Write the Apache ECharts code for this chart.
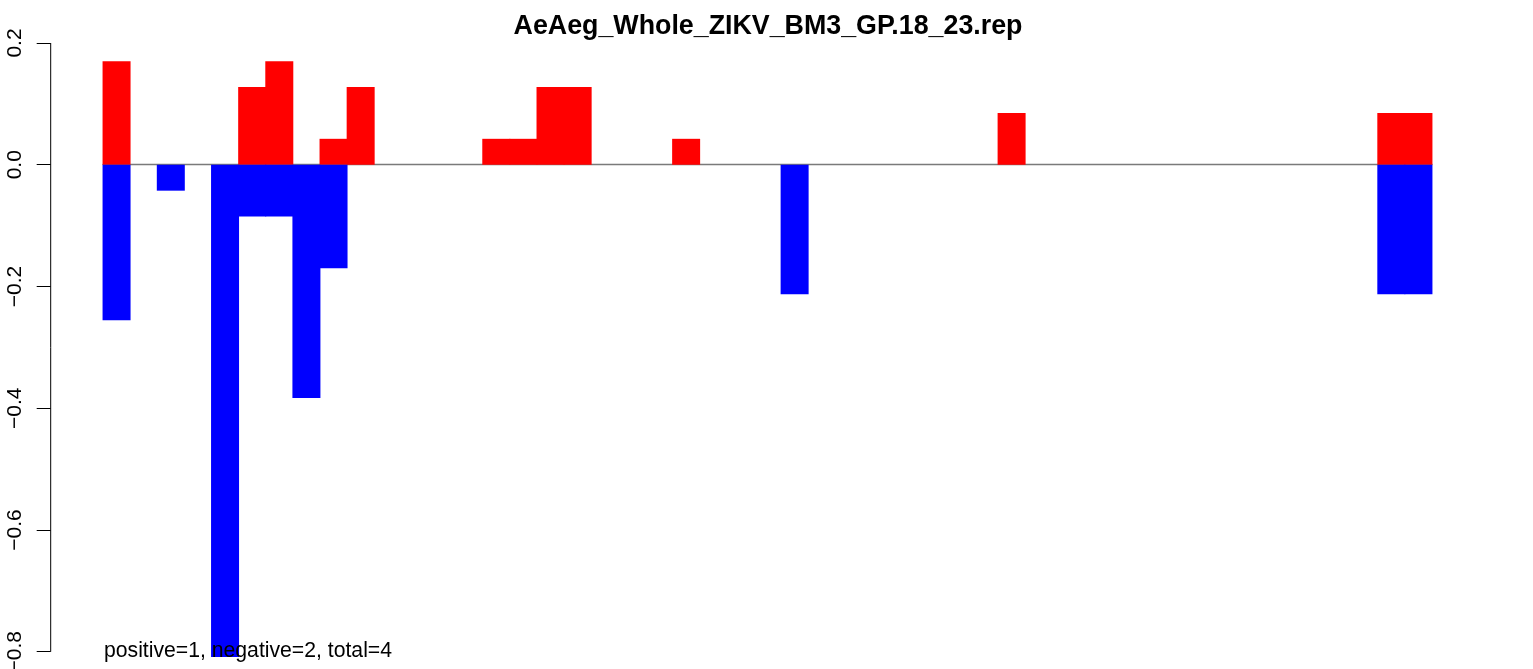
<!DOCTYPE html>
<html>
<head>
<meta charset="utf-8">
<script src="https://cdn.jsdelivr.net/npm/echarts@6/dist/echarts.min.js"></script>
<style>
  html, body { margin: 0; padding: 0; background: #fff; }
  #main { width: 1533px; height: 669px; }
</style>
</head>
<body>
<div id="main"></div>
<script>
// 标题和说明文字
var titleText = 'AeAeg_Whole_ZIKV_BM3_GP.18_23.rep';
var noteText = 'positive=1, negative=2, total=4';

// 49 个位置 (索引 0..48)
var positions = [];
for (var i = 0; i < 49; i++) positions.push(String(i + 1));

// 正向值 (红色)
var positiveValues = [
    0.1702, 0, 0, 0, 0, 0.1277, 0.1702, 0, 0.0426, 0.1277,
    0, 0, 0, 0, 0.0426, 0.0426, 0.1277, 0.1277, 0, 0,
    0, 0.0426, 0, 0, 0, 0, 0, 0, 0, 0,
    0, 0, 0, 0.0851, 0, 0, 0, 0, 0, 0,
    0, 0, 0, 0, 0, 0, 0, 0.0851, 0.0851
];

// 负向值 (蓝色)
var negativeValues = [
    -0.2553, 0, -0.0426, 0, -0.8085, -0.0851, -0.0851, -0.383, -0.1702, 0,
    0, 0, 0, 0, 0, 0, 0, 0, 0, 0,
    0, 0, 0, 0, 0, -0.2128, 0, 0, 0, 0,
    0, 0, 0, 0, 0, 0, 0, 0, 0, 0,
    0, 0, 0, 0, 0, 0, 0, -0.2128, -0.2128
];

// y 轴刻度
var yTickValues = [-0.8, -0.6, -0.4, -0.2, 0, 0.2];
var yMin = -0.8085;
var yMax = 0.2;

var font = 'Liberation Sans, Arial, Helvetica, sans-serif';
var gridLeft = 103;
var axisOffset = 52.3;

// 0 值不画
function noZero(arr) {
    return arr.map(function(v) { return v === 0 ? '-' : v; });
}

var chart = echarts.init(document.getElementById('main'));

chart.setOption({
    animation: false,
    backgroundColor: '#ffffff',
    grid: {
        left: gridLeft,
        right: 101,
        top: 43,
        bottom: 12.1,
        containLabel: false,
        outerBoundsMode: 'none'
    },
    xAxis: {
        type: 'category',
        data: positions,
        boundaryGap: true,
        axisLine: {
            show: true,
            onZero: true,
            lineStyle: { color: '#7a7a7a', width: 1.3 }
        },
        axisTick: { show: false },
        axisLabel: { show: false },
        splitLine: { show: false }
    },
    yAxis: {
        type: 'value',
        min: yMin,
        max: yMax,
        offset: axisOffset,
        axisLine: { show: false },
        axisTick: {
            show: true,
            length: 14,
            customValues: yTickValues,
            lineStyle: { color: '#000', width: 1 }
        },
        axisLabel: {
            rotate: 90,
            margin: 25,
            color: '#000',
            fontSize: 21,
            fontFamily: font,
            customValues: yTickValues,
            formatter: function(v) {
                return v.toFixed(1).replace('-', '\u2212');
            }
        },
        splitLine: { show: false }
    },
    series: [{
        name: 'positive',
        type: 'bar',
        data: noZero(positiveValues),
        barWidth: 28,
        barGap: '-100%',
        clip: false,
        itemStyle: { color: '#ff0000' }
    }, {
        name: 'negative',
        type: 'bar',
        data: noZero(negativeValues),
        barWidth: 28,
        barGap: '-100%',
        clip: false,
        itemStyle: { color: '#0000ff' }
    }],
    graphic: [{
        id: 'title',
        type: 'text',
        x: 768,
        y: 27,
        style: {
            text: titleText,
            font: 'bold 26.8px ' + font,
            fill: '#000',
            align: 'center',
            verticalAlign: 'middle'
        }
    }, {
        id: 'note',
        type: 'text',
        x: 104,
        y: 651.5,
        z: 100,
        style: {
            text: noteText,
            font: '21.2px ' + font,
            fill: '#000',
            align: 'left',
            verticalAlign: 'middle'
        }
    }]
});

// y 轴线只画在第一个和最后一个刻度之间
var yTop = chart.convertToPixel({ yAxisIndex: 0 }, yTickValues[yTickValues.length - 1]);
var yBottom = chart.convertToPixel({ yAxisIndex: 0 }, yTickValues[0]);
var axisX = gridLeft - axisOffset;
chart.setOption({
    graphic: [{
        id: 'yline',
        type: 'line',
        shape: { x1: axisX, y1: yTop, x2: axisX, y2: yBottom },
        style: { stroke: '#000', lineWidth: 1 }
    }]
});
</script>
</body>
</html>
